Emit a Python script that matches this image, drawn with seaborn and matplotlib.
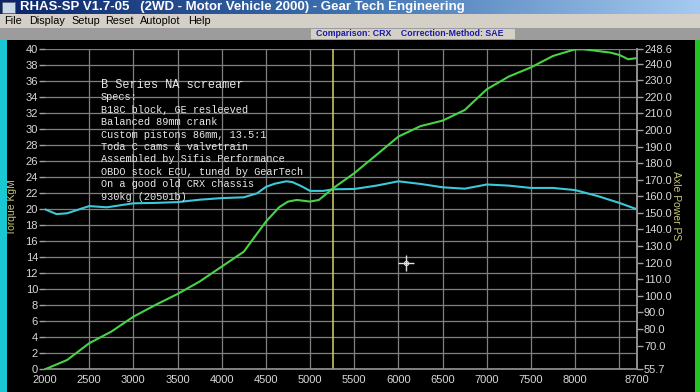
import numpy as np
import seaborn as sns
import matplotlib.pyplot as plt
from matplotlib.patches import Rectangle
from matplotlib.colors import LinearSegmentedColormap

# torque curve (KgM)
rpm_tq = [2000, 2130, 2250, 2500, 2700, 3000, 3250, 3500, 3750, 4000, 4250, 4400,
          4500, 4600, 4730, 4800, 4900, 5000, 5150, 5260, 5500, 5750, 6000, 6250,
          6500, 6750, 7000, 7250, 7500, 7750, 8000, 8250, 8500, 8700]
torque = [20.0, 19.4, 19.5, 20.4, 20.25, 20.75, 20.8, 20.9, 21.2, 21.4, 21.5, 22.0,
          22.8, 23.2, 23.5, 23.4, 22.9, 22.3, 22.3, 22.5, 22.54, 22.96, 23.5, 23.17,
          22.75, 22.58, 23.1, 22.96, 22.67, 22.67, 22.4, 21.67, 20.8, 20.0]

# axle power curve (PS)
rpm_pw = [2000, 2250, 2500, 2750, 3000, 3250, 3500, 3750, 4000, 4250, 4400, 4500,
          4650, 4750, 4850, 5000, 5100, 5257, 5500, 5750, 6000, 6250, 6500, 6750,
          7000, 7250, 7500, 7750, 8000, 8100, 8250, 8400, 8500, 8600, 8700]
power = [55.7, 61.3, 71.4, 78.4, 87.4, 94.5, 101.1, 108.6, 117.6, 126.6, 137.5, 144.7,
         153.4, 156.8, 157.8, 156.8, 157.8, 164.7, 173.9, 184.9, 196.0, 202.3, 205.6, 212.0,
         224.5, 232.2, 237.7, 244.6, 248.6, 248.6, 247.6, 246.6, 245.2, 242.6, 243.3]

x_ticks = [2000, 2500, 3000, 3500, 4000, 4500, 5000, 5500, 6000, 6500, 7000, 7500, 8000, 8500, 8700]
x_labels = ['2000', '2500', '3000', '3500', '4000', '4500', '5000', '5500', '6000',
            '6500', '7000', '7500', '8000', '', '8700']
tq_ticks = list(range(0, 41, 2))
pw_ticks = [55.7, 70, 80, 90, 100, 110, 120, 130, 140, 150, 160, 170, 180, 190,
            200, 210, 220, 230, 240, 248.6]

notes = ['B Series NA screamer', 'Specs:', 'B18C block, GE resleeved',
         'Balanced 89mm crank', 'Custom pistons 86mm, 13.5:1',
         'Toda C cams & valvetrain', 'Assembled by Sifis Performance',
         'OBDO stock ECU, tuned by GearTech', 'On a good old CRX chassis',
         '930kg (20501b)']
cursor_rpm, cursor_tq = 6085, 13.3
marker_rpm = 5257

sns.set_theme(style='dark')
plt.rcParams['font.family'] = ['Liberation Sans', 'DejaVu Sans']

W, H = 700, 392
fx = lambda x: x / W
fy = lambda y: 1 - y / H

fig = plt.figure(figsize=(7, 3.92), dpi=100, facecolor='black')

# window chrome
tax = fig.add_axes([0, fy(14), 1, 14 / H])
tax.imshow(np.linspace(0, 1, 256)[None, :], aspect='auto', extent=[0, 1, 0, 1],
           cmap=LinearSegmentedColormap.from_list('tb', ['#0a246a', '#3f72b0', '#a6caf0']))
tax.axis('off')
fig.text(fx(20), fy(7), 'RHAS-SP V1.7-05   (2WD - Motor Vehicle 2000) - Gear Tech Engineering',
         color='white', weight='bold', fontsize=9.5, va='center')
fig.patches.append(Rectangle((fx(2), fy(13)), 13 / W, 11 / H, transform=fig.transFigure,
                             facecolor='#c8d8e8', edgecolor='#606060', lw=0.5))
fig.patches.append(Rectangle((0, fy(28)), 1, 14 / H, transform=fig.transFigure,
                             facecolor='#d4d0c8', lw=0))
for xm, item in zip([4, 29, 71, 105, 140, 188],
                    ['File', 'Display', 'Setup', 'Reset', 'Autoplot', 'Help']):
    fig.text(fx(xm), fy(21), item, color='black', fontsize=7.8, va='center')
fig.patches.append(Rectangle((0, fy(40)), 1, 12 / H, transform=fig.transFigure,
                             facecolor='#9c9c9c', lw=0))
fig.patches.append(Rectangle((fx(311), fy(39)), 204 / W, 10 / H, transform=fig.transFigure,
                             facecolor='#d4d0c8', lw=0))
fig.text(fx(316), fy(34), 'Comparison: CRX    Correction-Method: SAE', color='#1a1aa8',
         weight='bold', fontsize=6.3, va='center')
fig.patches.append(Rectangle((0, 0), 7 / W, fy(40), transform=fig.transFigure,
                             facecolor='#19c8d2', lw=0))
fig.patches.append(Rectangle((fx(695), 0), 5 / W, fy(40), transform=fig.transFigure,
                             facecolor='#22c422', lw=0))

# plot area
ax = fig.add_axes([fx(45), fy(369.3), 592 / W, 320 / H])
ax.set_facecolor('black')
sns.lineplot(x=rpm_tq, y=torque, ax=ax, color='#3cc8d8', lw=1.5)
ax.axvline(marker_rpm, color='#c8c060', lw=1.2)
ax.plot(cursor_rpm, cursor_tq, marker='+', ms=12, mew=1, color='#e0e0e0')
ax.plot(cursor_rpm, cursor_tq, marker='o', ms=3, mfc='none', mew=0.8, color='#e0e0e0')

ax.set_xlim(2000, 8700)
ax.set_ylim(0, 40)
ax.set_xticks(x_ticks)
ax.set_xticklabels(x_labels)
ax.set_yticks(tq_ticks)
ax.grid(True, color='#808080', lw=0.9)
ax.xaxis.get_gridlines()[0].set_visible(False)
ax.tick_params(axis='x', colors='#d8d8d8', labelsize=8, length=0, pad=4)
ax.tick_params(axis='y', colors='#d8d8d8', labelsize=8, length=4, width=1, pad=1,
               color='#a0a0a0')
for s in ['left', 'top']:
    ax.spines[s].set_visible(False)
for s in ['bottom', 'right']:
    ax.spines[s].set_color('#909090')
ax.set_xlabel('')
ax.set_ylabel('Torque KgM', color='#c8c878', fontsize=7.5)
ax.yaxis.set_label_coords((17 - 45) / 592, (369.3 - 207) / 320)

ax2 = ax.twinx()
sns.lineplot(x=rpm_pw, y=power, ax=ax2, color='#46d446', lw=1.5)
ax2.set_ylim(55.7, 248.6)
ax2.set_yticks(pw_ticks)
ax2.set_yticklabels([f'{v:.1f}' for v in pw_ticks])
ax2.tick_params(axis='y', colors='#d8d8d8', labelsize=8, length=4, width=1, pad=1,
                color='#a0a0a0')
for s in ['left', 'top', 'bottom']:
    ax2.spines[s].set_visible(False)
ax2.spines['right'].set_color('#909090')
ax2.set_ylabel('Axle Power PS', color='#c8c878', fontsize=7.5, rotation=270)
ax2.yaxis.set_label_coords((681 - 45) / 592, (369.3 - 206) / 320)
ax2.grid(False)

# first note line is the larger heading, the spec lines are smaller
for i, line in enumerate(notes):
    fig.text(fx(101), fy(85 + 12.4 * i), line, color='#e8e8e8',
             fontsize=8.6 if i == 0 else 7.4, family='Liberation Mono', va='center')

fig.savefig('out.png', dpi=100, facecolor='black')
